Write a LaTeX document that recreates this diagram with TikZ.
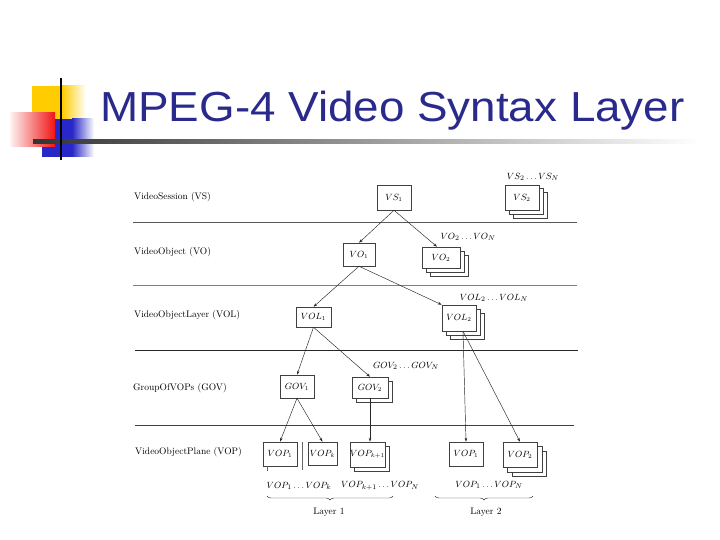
\documentclass[tikz,border=0pt]{standalone}
\usepackage{graphicx}
\usepackage{fontspec}
\newfontfamily\titlefont{Liberation Sans}
\usetikzlibrary{arrows.meta,backgrounds,decorations.pathreplacing}
\definecolor{titleblue}{RGB}{42,42,140}
\definecolor{decoyellow}{RGB}{255,204,0}
\definecolor{decoblue}{RGB}{40,40,200}
\definecolor{decored}{RGB}{240,20,20}
\begin{document}
\begin{tikzpicture}[x=1pt,y=-1pt,
  box/.style={draw=black!75, fill=white, line width=0.5pt, inner sep=0pt, font=\fontsize{9}{10}\selectfont},
  shadowbox/.style={draw=black!75, fill=white, line width=0.5pt},
  rule/.style={draw=black!65, line width=0.6pt},
  link/.style={draw=black!85, line width=0.45pt, -{Stealth[length=4pt,width=2.6pt]}},
  level/.style={anchor=west, font=\fontsize{9.5}{11}\selectfont, inner sep=0pt},
  stacklabel/.style={font=\fontsize{9.5}{11}\selectfont, inner sep=0pt},
  brace/.style={decorate, decoration={brace, mirror, amplitude=4pt}, draw=black!80, line width=0.45pt}
]
\useasboundingbox (0,0) rectangle (720,540);

% ---- title decoration ----
\fill[decoyellow] (32,86) rectangle (62,120);
\shade[left color=decoyellow, right color=white] (62,86) rectangle (86,120);
\fill[decoblue] (42,119) rectangle (72,157);
\shade[left color=decoblue, right color=white] (72,119) rectangle (94,157);
\shade[left color=decored!5, right color=decored] (10,113) rectangle (55,147);
\shade[left color=black!80, right color=white] (33,140) rectangle (700,143.5);
\draw[black, line width=2pt] (61,78) -- (61,160);
\node[anchor=base west, inner sep=0pt, text=titleblue] (title) at (100,122)
  {\titlefont\fontsize{42}{50}\selectfont\scalebox{1.09}[1]{MPEG-4 Video Syntax Layer}};

% ---- level rules ----
\draw[rule] (133,222) -- (577,222);
\draw[rule, draw=black!50] (133,285) -- (577,285);
\draw[rule, draw=black!85] (135,350) -- (578,350);
\draw[rule, draw=black!75] (135,425) -- (574,425);

% ---- level labels ----
\node[level] (lvs)  at (134,197) {VideoSession (VS)};
\node[level] (lvo)  at (134,252) {VideoObject (VO)};
\node[level] (lvol) at (134,315) {VideoObjectLayer (VOL)};
\node[level] (lgov) at (133,388) {GroupOfVOPs (GOV)};
\node[level] (lvop) at (135,452) {VideoObjectPlane (VOP)};

% ---- boxes ----
\node[box, minimum width=34pt, minimum height=25pt] (VS1) at (394,197.5) {$VS_1$};
\node[box, minimum width=34pt, minimum height=25pt] (VS2) at (522,197.5) {$VS_2$};
\node[box, minimum width=32pt, minimum height=23pt] (VO1) at (359,254.5) {$VO_1$};
\node[box, minimum width=38pt, minimum height=21pt] (VO2) at (441,257.5) {$VO_2$};
\node[box, minimum width=35pt, minimum height=20pt] (VOL1) at (313.5,317) {$VOL_1$};
\node[box, minimum width=34pt, minimum height=26pt] (VOL2) at (459,318) {$VOL_2$};
\node[box, minimum width=34pt, minimum height=23pt] (GOV1) at (297,386.5) {$GOV_1$};
\node[box, minimum width=36pt, minimum height=21pt] (GOV2) at (370,387.5) {$GOV_2$};
\node[box, minimum width=34pt, minimum height=24pt] (VOP1) at (280,454) {$VOP_1$};
\node[box, minimum width=29pt, minimum height=23pt] (VOPk) at (322.5,453.5) {$VOP_k$};
\node[box, minimum width=35pt, minimum height=25pt] (VOPk1) at (367.5,454.5) {$VOP_{k+1}$};
\node[box, minimum width=34pt, minimum height=24pt] (LVOP1) at (466,454) {$VOP_1$};
\node[box, minimum width=34pt, minimum height=25pt] (LVOP2) at (520,454.5) {$VOP_2$};

% ---- stacked copies ----
\begin{scope}[on background layer]
  \fill[white] (0,0) rectangle (720,540);
  \foreach \n/\s in {VS2/8, VS2/4, VO2/8, VO2/4, VOL2/8, VOL2/4, GOV2/4, VOPk1/4, LVOP2/9, LVOP2/4.5}{
    \draw[shadowbox] ([shift={(\s,\s)}]\n.north west) rectangle ([shift={(\s,\s)}]\n.south east);
  }
\end{scope}
\draw[black!60, line width=0.5pt] (302,442) -- (302,470);
\draw[black!60, line width=0.5pt] (267,466) -- (267,471);

% ---- connectors ----
\draw[link] (VS1.south) -- ([xshift=-4pt]VO2.north);
\draw[link] (VS1.south) -- (VO1.north);
\draw[link] (VO1.south) -- (VOL1.north);
\draw[link] (VO1.south) -- (VOL2.north west);
\draw[link] (VOL1.south) -- (GOV1.north);
\draw[link] (VOL1.south) -- (GOV2.north);
\draw[link] (GOV1.south) -- (VOP1.north);
\draw[link] (GOV1.south) -- (VOPk.north);
\draw[link] (GOV2.south) -- (GOV2.south |- VOPk1.north);
\draw[link] ([xshift=4pt]VOL2.south) -- (LVOP1.north);
\draw[link] ([xshift=4pt]VOL2.south) -- (LVOP2.north);

% ---- stack labels ----
\node[stacklabel] (sVS)  at (533,177) {$VS_2\ldots VS_N$};
\node[stacklabel] (sVO)  at (468,237) {$VO_2\ldots VO_N$};
\node[stacklabel] (sVOL) at (494,298) {$VOL_2\ldots VOL_N$};
\node[stacklabel] (sGOV) at (406,366) {$GOV_2\ldots GOV_N$};
\node[stacklabel] (sVP1) at (299,486) {$VOP_1\ldots VOP_k$};
\node[stacklabel] (sVP2) at (380,486) {$VOP_{k+1}\ldots VOP_N$};
\node[stacklabel] (sVP3) at (489,485) {$VOP_1\ldots VOP_N$};

% ---- layer braces ----
\coordinate (b1a) at (267,496); \coordinate (b1b) at (393,496);
\coordinate (b2a) at (435,496); \coordinate (b2b) at (533,496);
\draw[brace] (b1a) -- (b1b);
\draw[brace] (b2a) -- (b2b);
\node[stacklabel] (layer1) at (329,512) {Layer 1};
\node[stacklabel] (layer2) at (486,512) {Layer 2};
\end{tikzpicture}
\end{document}
